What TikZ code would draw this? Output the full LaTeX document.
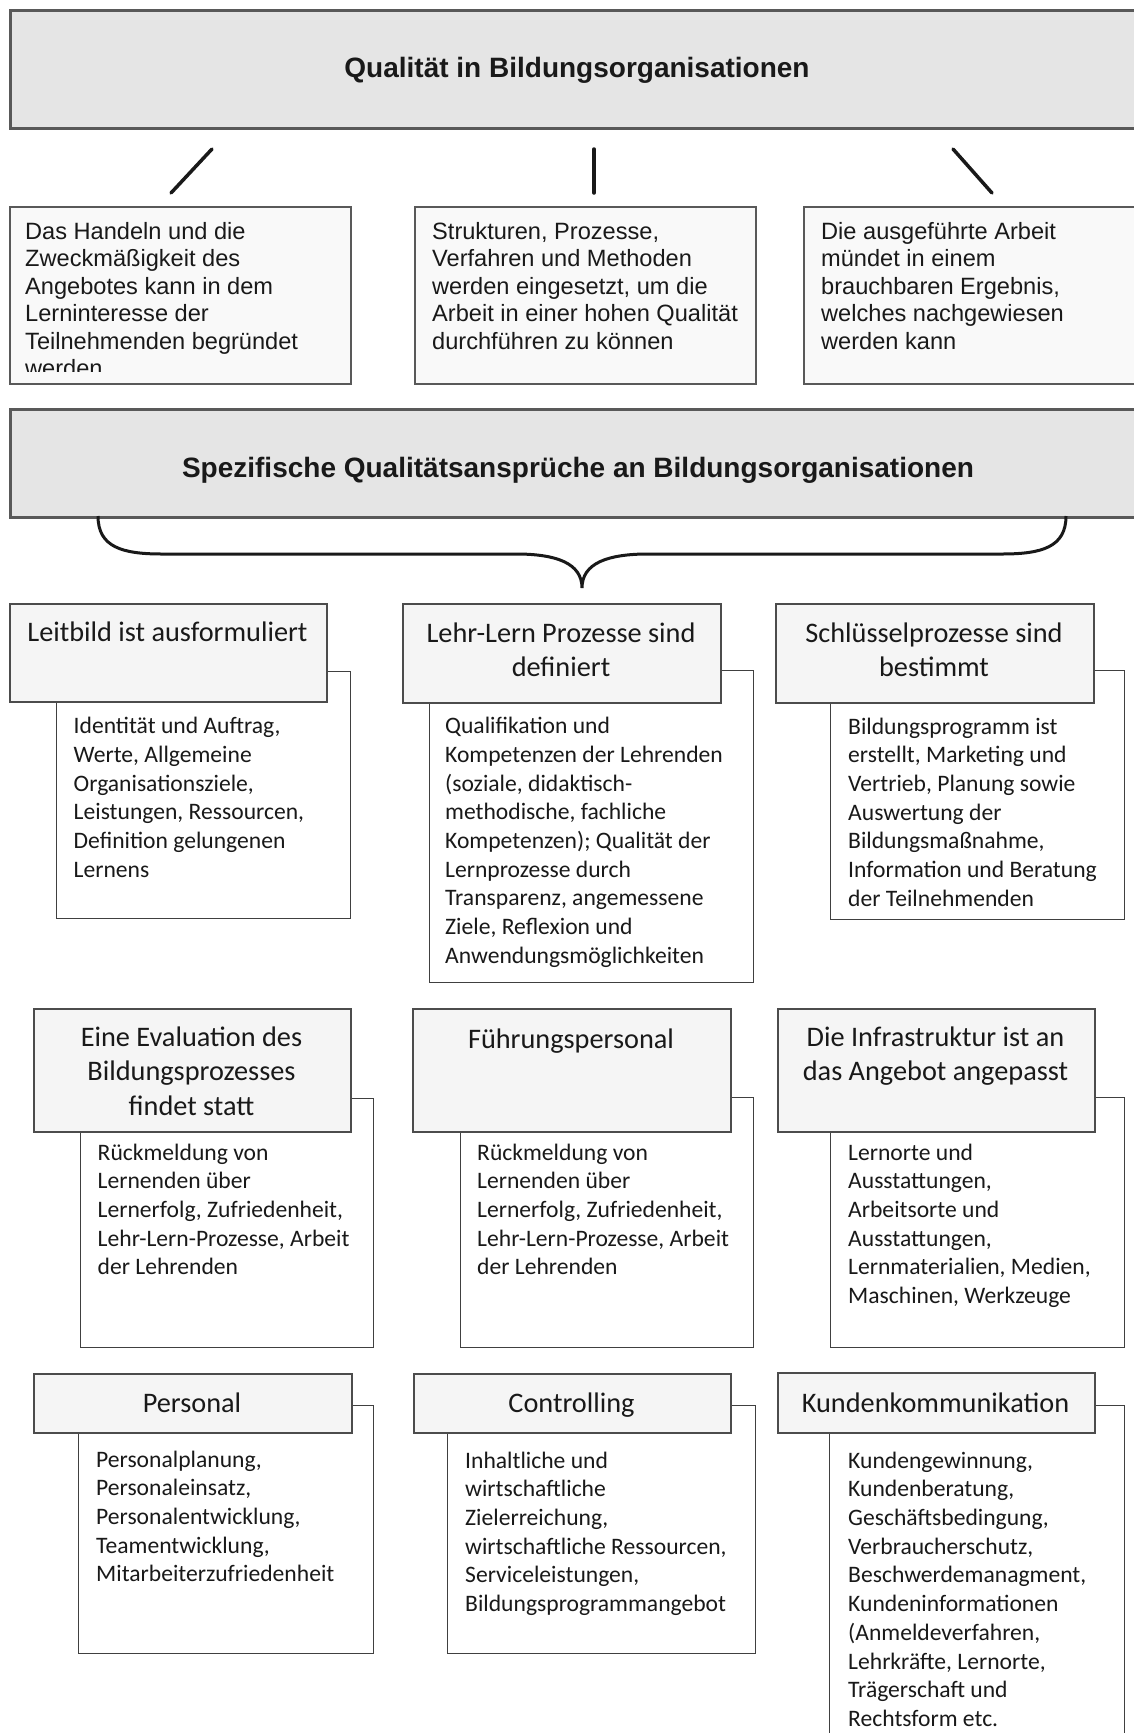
\documentclass[tikz,border=0pt]{standalone}
\usepackage{fontspec}
\setmainfont{Carlito}
\newfontfamily\arialfont{Liberation Sans}

\tikzset{
  titlebox/.style={draw=black!65, line width=2.5pt, fill=black!10, anchor=north west, inner sep=0pt},
  notebox/.style={draw=black!65, line width=1.8pt, fill=black!2.5, anchor=north west, inner sep=0pt},
  headbox/.style={draw=black!70, line width=1.6pt, fill=black!4, anchor=north west, inner sep=0pt},
  infobox/.style={draw=black!75, line width=1.4pt, fill=white, anchor=north west, inner sep=0pt},
  titletext/.style={font=\arialfont\bfseries\fontsize{28}{32}\selectfont, text=black!90, inner sep=0pt},
  notetext/.style={font=\arialfont\fontsize{23.6}{27.5}\selectfont, text=black!90, align=left, anchor=north west, inner sep=0pt, execute at begin node=\strut},
  headtext/.style={font=\fontsize{28.3}{34.5}\selectfont, text=black!90, align=center, anchor=north, inner sep=0pt, execute at begin node=\strut},
  infotext/.style={font=\fontsize{23.6}{28.7}\selectfont, text=black!90, align=left, anchor=north west, inner sep=0pt, execute at begin node=\strut},
  bar/.style={line width=3.5pt, line cap=round, black!90},
  brace/.style={line width=3pt, black!90},
}

\begin{document}
\begin{tikzpicture}[x=1pt,y=-1pt]
\useasboundingbox (0,0) rectangle (1134,1733);
\fill[white] (0,0) rectangle (1134,1733);
\clip (0,0) rectangle (1134,1733);

% Kopf
\node[titlebox, minimum width=1136pt, minimum height=118pt] (qualitaet) at (9,9) {};
\node[titletext] (qualitaettxt) at (577,70) {Qualität in Bildungsorganisationen};

% Striche
\coordinate (s1a) at (212,149); \coordinate (s1b) at (171,193);
\coordinate (s2a) at (594,149); \coordinate (s2b) at (594,193);
\coordinate (s3a) at (953,149); \coordinate (s3b) at (992,193);
\draw[bar] (s1a) -- (s1b);
\draw[bar] (s2a) -- (s2b);
\draw[bar] (s3a) -- (s3b);

% drei Aspekte
\node[notebox, minimum width=341pt, minimum height=177pt] (handeln) at (9,206) {};
\node[notebox, minimum width=341pt, minimum height=177pt] (strukturen) at (414,206) {};
\node[notebox, minimum width=341pt, minimum height=177pt] (ergebnis) at (803,206) {};
\begin{scope}
\clip (9,206) rectangle (350,371);
\node[notetext] (handelntxt) at (25,222) {Das Handeln und die\\Zweckmäßigkeit des\\Angebotes kann in dem\\Lerninteresse der\\Teilnehmenden begründet\\werden};
\end{scope}
\node[notetext] (strukturentxt) at (432,222) {Strukturen, Prozesse,\\Verfahren und Methoden\\werden eingesetzt, um die\\Arbeit in einer hohen Qualität\\durchführen zu können};
\node[notetext] (ergebnistxt) at (821,222) {Die ausgeführte Arbeit\\mündet in einem\\brauchbaren Ergebnis,\\welches nachgewiesen\\werden kann};

% Ansprueche
\node[titlebox, minimum width=1136pt, minimum height=108pt] (ansprueche) at (9,408) {};
\node[titletext] (anspruechetxt) at (578,470) {Spezifische Qualitätsansprüche an Bildungsorganisationen};

% Klammer
\coordinate (kl) at (98,516);
\coordinate (kspitze) at (582,588);
\coordinate (kr) at (1066,516);
\draw[brace] (kl) .. controls (98,547) and (122,554) .. (162,554) -- (516,554)
  .. controls (556,554) and (582,563) .. (kspitze)
  .. controls (582,563) and (608,554) .. (648,554) -- (1002,554)
  .. controls (1042,554) and (1066,547) .. (kr);

% Reihe 1
\node[infobox, minimum width=294pt, minimum height=247pt] (leitbildbox) at (56,671) {};
\node[infobox, minimum width=324pt, minimum height=312pt] (lehrlernbox) at (429,670) {};
\node[infobox, minimum width=294pt, minimum height=249pt] (schluesselbox) at (830,670) {};
\node[headbox, minimum width=317pt, minimum height=98pt] (leitbild) at (9,603) {};
\node[headbox, minimum width=318pt, minimum height=99pt] (lehrlern) at (402,603) {};
\node[headbox, minimum width=318pt, minimum height=99pt] (schluessel) at (775,603) {};
\node[headtext] (leitbildtxt) at (167.5,617) {Leitbild ist ausformuliert};
\node[headtext] (lehrlerntxt) at (561,622.5) {Lehr-Lern Prozesse sind\\definiert};
\node[headtext] (schluesseltxt) at (934,622.5) {Schlüsselprozesse sind\\bestimmt};
\node[infotext] (leitbildinfo) at (73.5,717) {Identität und Auftrag,\\Werte, Allgemeine\\Organisationsziele,\\Leistungen, Ressourcen,\\Definition gelungenen\\Lernens};
\node[infotext] (lehrlerninfo) at (445,717) {Qualifikation und\\Kompetenzen der Lehrenden\\(soziale, didaktisch-\\methodische, fachliche\\Kompetenzen); Qualität der\\Lernprozesse durch\\Transparenz, angemessene\\Ziele, Reflexion und\\Anwendungsmöglichkeiten};
\node[infotext] (schluesselinfo) at (848,717.5) {Bildungsprogramm ist\\erstellt, Marketing und\\Vertrieb, Planung sowie\\Auswertung der\\Bildungsmaßnahme,\\Information und Beratung\\der Teilnehmenden};

% Reihe 2
\node[infobox, minimum width=293pt, minimum height=249pt] (evaluationbox) at (80,1098) {};
\node[infobox, minimum width=293pt, minimum height=250pt] (fuehrungbox) at (460,1097) {};
\node[infobox, minimum width=294pt, minimum height=250pt] (infrabox) at (830,1097) {};
\node[headbox, minimum width=317pt, minimum height=123pt] (evaluation) at (33,1008) {};
\node[headbox, minimum width=318pt, minimum height=123pt] (fuehrung) at (412,1008) {};
\node[headbox, minimum width=317pt, minimum height=123pt] (infra) at (777,1008) {};
\node[headtext] (evaluationtxt) at (191.5,1026.5) {Eine Evaluation des\\Bildungsprozesses\\findet statt};
\node[headtext] (fuehrungtxt) at (571,1024) {Führungspersonal};
\node[headtext] (infratxt) at (935.5,1026.5) {Die Infrastruktur ist an\\das Angebot angepasst};
\node[infotext] (evaluationinfo) at (97.5,1143.5) {Rückmeldung von\\Lernenden über\\Lernerfolg, Zufriedenheit,\\Lehr-Lern-Prozesse, Arbeit\\der Lehrenden};
\node[infotext] (fuehrunginfo) at (477,1143.5) {Rückmeldung von\\Lernenden über\\Lernerfolg, Zufriedenheit,\\Lehr-Lern-Prozesse, Arbeit\\der Lehrenden};
\node[infotext] (infrainfo) at (848,1143.5) {Lernorte und\\Ausstattungen,\\Arbeitsorte und\\Ausstattungen,\\Lernmaterialien, Medien,\\Maschinen, Werkzeuge};

% Reihe 3
\node[infobox, minimum width=295pt, minimum height=248pt] (personalbox) at (78,1405) {};
\node[infobox, minimum width=308pt, minimum height=248pt] (controllingbox) at (447,1405) {};
\node[infobox, minimum width=295pt, minimum height=400pt] (kundenbox) at (829,1405) {};
\node[headbox, minimum width=318pt, minimum height=59pt] (personal) at (33,1373) {};
\node[headbox, minimum width=317pt, minimum height=59pt] (controlling) at (413,1373) {};
\node[headbox, minimum width=317pt, minimum height=60pt] (kunden) at (777,1372) {};
\node[headtext] (personaltxt) at (192,1388) {Personal};
\node[headtext] (controllingtxt) at (571.5,1388) {Controlling};
\node[headtext] (kundentxt) at (935.5,1388) {Kundenkommunikation};
\node[infotext] (personalinfo) at (96,1450.5) {Personalplanung,\\Personaleinsatz,\\Personalentwicklung,\\Teamentwicklung,\\Mitarbeiterzufriedenheit};
\node[infotext] (controllinginfo) at (465,1451.5) {Inhaltliche und\\wirtschaftliche\\Zielerreichung,\\wirtschaftliche Ressourcen,\\Serviceleistungen,\\Bildungsprogrammangebot};
\node[infotext] (kundeninfo) at (848,1451.5) {Kundengewinnung,\\Kundenberatung,\\Geschäftsbedingung,\\Verbraucherschutz,\\Beschwerdemanagment,\\Kundeninformationen\\(Anmeldeverfahren,\\Lehrkräfte, Lernorte,\\Trägerschaft und\\Rechtsform etc.};
\end{tikzpicture}
\end{document}
